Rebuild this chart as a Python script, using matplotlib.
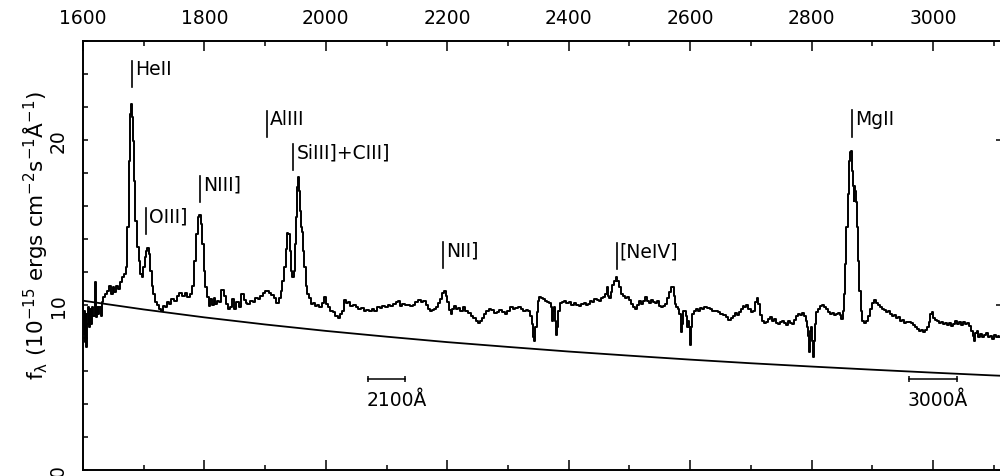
import matplotlib
matplotlib.use('Agg')
import matplotlib.pyplot as plt
from matplotlib.ticker import MultipleLocator

plt.rcParams['font.family'] = ['DejaVu Sans']
plt.rcParams['mathtext.default'] = 'regular'

# spectrum (rest wavelength in A, flux in 1e-15 units)
wave = [
    1600.0, 1601.1, 1602.2, 1603.3, 1605.0, 1606.1, 1607.7, 1609.4, 1611.0, 1612.7,
    1614.3, 1616.0, 1618.2, 1619.8, 1621.5, 1623.6, 1625.8, 1628.0, 1629.7, 1631.9,
    1634.6, 1637.9, 1641.2, 1644.5, 1647.3, 1650.0, 1653.3, 1656.6, 1659.9, 1663.2,
    1666.5, 1669.8, 1672.0, 1674.2, 1676.4, 1678.6, 1679.6, 1680.7, 1682.4, 1684.6,
    1687.3, 1690.1, 1692.8, 1695.6, 1697.8, 1700.0, 1702.7, 1704.9, 1707.1, 1709.3,
    1711.5, 1714.2, 1717.0, 1720.3, 1723.6, 1726.9, 1730.2, 1733.4, 1736.7, 1740.0,
    1743.3, 1747.7, 1752.1, 1756.5, 1760.9, 1765.3, 1769.7, 1774.1, 1778.5, 1781.8,
    1785.1, 1787.8, 1790.5, 1792.7, 1794.9, 1797.1, 1799.9, 1802.6, 1805.4, 1808.1,
    1810.9, 1813.6, 1816.4, 1819.1, 1822.4, 1825.7, 1830.1, 1833.4, 1836.7, 1840.5,
    1844.3, 1847.6, 1850.4, 1854.2, 1858.6, 1863.0, 1866.3, 1869.6, 1872.3, 1877.8,
    1882.2, 1886.0, 1889.9, 1894.3, 1898.6, 1902.0, 1905.2, 1908.5, 1911.8, 1916.2,
    1920.6, 1923.9, 1927.2, 1930.0, 1932.7, 1935.4, 1937.6, 1939.3, 1941.5, 1943.7,
    1945.9, 1948.1, 1950.3, 1951.9, 1953.5, 1955.2, 1956.8, 1957.9, 1959.6, 1961.2,
    1963.4, 1965.6, 1968.4, 1971.1, 1974.4, 1977.7, 1981.0, 1984.3, 1987.6, 1991.4,
    1995.3, 1998.6, 2001.3, 2005.1, 2009.6, 2014.0, 2017.8, 2021.1, 2024.4, 2027.7,
    2031.0, 2034.2, 2038.1, 2042.5, 2046.9, 2051.3, 2055.7, 2060.0, 2064.4, 2068.8,
    2073.2, 2077.6, 2082.0, 2086.4, 2090.8, 2095.2, 2099.6, 2104.0, 2108.4, 2112.8,
    2117.1, 2120.4, 2123.7, 2128.1, 2132.5, 2136.9, 2141.3, 2145.2, 2149.6, 2154.0,
    2158.4, 2162.8, 2166.1, 2169.3, 2172.6, 2175.9, 2179.8, 2183.6, 2186.9, 2190.2,
    2193.5, 2196.2, 2199.0, 2201.7, 2204.5, 2207.2, 2210.0, 2213.3, 2216.6, 2219.9,
    2223.7, 2227.5, 2231.9, 2236.3, 2240.7, 2245.1, 2248.4, 2251.7, 2255.0, 2258.3,
    2262.1, 2266.0, 2270.4, 2274.8, 2279.1, 2283.5, 2287.9, 2292.3, 2296.7, 2301.1,
    2305.5, 2309.9, 2314.3, 2318.7, 2323.1, 2327.5, 2331.9, 2335.1, 2338.4, 2340.6,
    2342.8, 2344.5, 2346.1, 2348.3, 2350.5, 2352.7, 2356.0, 2359.3, 2362.6, 2365.9,
    2369.2, 2371.9, 2373.6, 2375.2, 2377.4, 2379.1, 2380.7, 2382.4, 2384.0, 2386.8,
    2390.0, 2393.9, 2397.7, 2402.1, 2406.5, 2410.9, 2414.8, 2418.6, 2422.5, 2426.9,
    2430.2, 2433.5, 2436.8, 2440.6, 2444.4, 2447.7, 2451.6, 2455.4, 2458.7, 2461.5,
    2463.7, 2465.9, 2468.0, 2470.8, 2473.5, 2476.3, 2479.0, 2481.2, 2484.0, 2487.3,
    2490.6, 2493.8, 2497.1, 2501.0, 2504.8, 2508.1, 2511.4, 2514.7, 2518.0, 2521.3,
    2524.6, 2527.9, 2531.2, 2534.5, 2537.8, 2541.1, 2544.4, 2547.7, 2551.0, 2554.2,
    2557.5, 2560.8, 2564.1, 2566.9, 2569.6, 2571.8, 2574.0, 2576.2, 2578.4, 2581.1,
    2583.9, 2586.1, 2587.7, 2589.4, 2591.6, 2593.8, 2596.0, 2597.6, 2599.3, 2600.9,
    2602.6, 2604.7, 2608.0, 2611.3, 2614.6, 2617.9, 2621.8, 2625.6, 2630.0, 2634.4,
    2638.8, 2643.2, 2647.6, 2652.0, 2656.4, 2660.7, 2665.1, 2668.4, 2671.7, 2675.0,
    2678.3, 2681.6, 2684.9, 2688.2, 2690.4, 2694.3, 2697.6, 2701.4, 2705.3, 2708.6,
    2711.3, 2714.0, 2716.8, 2719.5, 2722.8, 2726.1, 2729.4, 2732.7, 2736.0, 2739.3,
    2742.6, 2745.9, 2749.2, 2752.5, 2755.8, 2759.1, 2762.4, 2765.7, 2768.9, 2772.2,
    2775.5, 2778.8, 2782.1, 2785.4, 2788.7, 2791.5, 2793.7, 2795.3, 2797.0, 2798.6,
    2800.3, 2801.9, 2803.5, 2805.2, 2806.8, 2809.0, 2811.8, 2815.1, 2818.4, 2821.6,
    2824.9, 2828.2, 2831.5, 2834.8, 2838.1, 2841.4, 2844.7, 2848.0, 2850.2, 2851.9,
    2854.0, 2856.2, 2858.4, 2860.6, 2862.8, 2864.5, 2866.1, 2867.2, 2868.3, 2870.0,
    2871.1, 2872.2, 2873.3, 2874.9, 2877.1, 2879.3, 2882.2, 2885.3, 2888.6, 2891.9,
    2895.2, 2898.5, 2901.8, 2905.1, 2908.4, 2911.7, 2915.0, 2918.3, 2921.6, 2924.9,
    2928.2, 2931.4, 2934.7, 2938.0, 2941.3, 2944.6, 2947.9, 2951.2, 2954.5, 2957.8,
    2962.3, 2965.5, 2968.8, 2972.1, 2975.4, 2978.7, 2982.0, 2985.3, 2988.6, 2991.9,
    2994.6, 2996.8, 2999.0, 3001.8, 3005.1, 3008.4, 3011.7, 3014.9, 3018.2, 3021.5,
    3024.8, 3028.1, 3031.4, 3034.7, 3038.0, 3041.3, 3044.6, 3047.9, 3051.2, 3054.5,
    3057.8, 3061.1, 3063.8, 3066.6, 3068.7, 3071.0, 3073.1, 3075.9, 3078.6, 3081.9,
    3085.2, 3088.5, 3091.8, 3095.1, 3098.4, 3101.7, 3105.0, 3108.3, 3110.5, 3115.0,
]
flux = [
    9.86, 8.25, 9.66, 7.74, 9.46, 7.44, 8.85, 9.86, 8.65, 9.76,
    8.85, 9.86, 9.36, 11.38, 9.26, 9.86, 9.46, 9.86, 9.36, 10.17,
    10.47, 10.67, 10.87, 11.18, 10.67, 11.07, 10.77, 11.18, 10.97, 11.38,
    11.68, 11.88, 12.29, 14.71, 18.75, 21.58, 22.18, 21.38, 19.96, 17.54,
    15.11, 13.50, 12.69, 11.88, 11.68, 12.29, 12.89, 13.30, 13.46, 13.09,
    12.08, 11.18, 10.67, 10.17, 10.02, 9.76, 9.62, 9.96, 9.86, 10.17,
    10.06, 10.37, 10.27, 10.57, 10.71, 10.57, 10.71, 10.47, 10.67, 11.18,
    12.69, 14.31, 15.32, 15.48, 14.91, 13.70, 12.08, 11.07, 10.47, 9.96,
    10.37, 10.02, 10.43, 10.06, 10.27, 10.17, 10.91, 10.57, 10.06, 9.76,
    9.86, 10.37, 9.76, 10.17, 9.86, 10.67, 10.31, 10.10, 10.06, 10.27,
    10.17, 10.43, 10.37, 10.57, 10.71, 10.83, 10.87, 10.71, 10.63, 10.43,
    10.10, 10.43, 10.87, 11.48, 12.29, 13.40, 14.35, 14.31, 13.30, 12.08,
    11.72, 12.08, 13.70, 15.32, 17.13, 17.74, 16.93, 15.72, 14.71, 14.41,
    13.30, 12.29, 11.18, 10.67, 10.43, 10.06, 10.10, 9.94, 10.02, 9.86,
    10.10, 10.47, 10.06, 9.90, 9.66, 9.56, 9.36, 9.22, 9.46, 9.66,
    10.31, 10.10, 10.17, 9.96, 10.02, 9.86, 9.76, 9.82, 9.66, 9.70,
    9.62, 9.76, 9.66, 9.90, 9.82, 9.96, 9.86, 10.02, 9.94, 10.06,
    10.17, 10.23, 9.96, 10.06, 9.98, 10.02, 9.94, 10.02, 10.17, 10.31,
    10.17, 10.23, 10.02, 9.76, 9.62, 9.70, 9.76, 9.90, 10.10, 10.37,
    10.71, 10.83, 10.57, 10.17, 9.70, 9.46, 9.76, 9.96, 9.76, 9.82,
    9.66, 9.86, 9.62, 9.50, 9.36, 9.22, 9.05, 8.89, 9.05, 9.22,
    9.46, 9.66, 9.76, 9.70, 9.50, 9.56, 9.70, 9.56, 9.46, 9.62,
    9.86, 9.76, 9.82, 9.90, 9.76, 9.66, 9.70, 9.62, 9.36, 8.85,
    8.04, 7.84, 8.65, 9.56, 10.27, 10.51, 10.43, 10.39, 10.27, 10.17,
    10.10, 9.86, 9.05, 9.66, 9.86, 9.05, 8.21, 8.65, 9.66, 10.10,
    10.17, 10.23, 10.10, 10.17, 10.02, 10.10, 10.02, 9.94, 10.06, 10.14,
    9.98, 10.06, 10.23, 10.17, 10.37, 10.31, 10.27, 10.43, 10.47, 10.67,
    11.11, 10.57, 10.43, 10.77, 11.24, 11.48, 11.72, 11.48, 11.07, 10.67,
    10.57, 10.43, 10.51, 10.31, 10.06, 9.90, 9.76, 10.02, 10.23, 10.06,
    10.27, 10.47, 10.27, 10.10, 10.31, 10.17, 10.10, 10.23, 9.94, 9.86,
    9.96, 10.06, 10.43, 10.77, 11.11, 11.07, 10.57, 10.06, 9.86, 9.76,
    9.46, 8.35, 8.85, 9.66, 9.62, 9.36, 8.65, 9.05, 8.65, 7.60,
    8.65, 9.46, 9.62, 9.76, 9.66, 9.82, 9.76, 9.90, 9.82, 9.76,
    9.66, 9.62, 9.56, 9.46, 9.42, 9.30, 9.09, 9.22, 9.36, 9.50,
    9.42, 9.56, 9.76, 9.96, 9.86, 10.02, 9.76, 9.56, 9.66, 10.17,
    10.43, 10.06, 9.42, 9.05, 8.89, 8.95, 9.15, 9.26, 9.05, 9.13,
    8.89, 8.85, 8.97, 9.05, 8.89, 8.81, 9.01, 8.93, 8.85, 9.09,
    9.36, 9.46, 9.42, 9.50, 9.36, 9.05, 8.65, 8.15, 7.13, 8.45,
    8.65, 7.84, 6.83, 7.84, 8.85, 9.56, 9.76, 9.96, 10.02, 9.86,
    9.76, 9.56, 9.46, 9.54, 9.42, 9.46, 9.54, 9.42, 9.15, 9.66,
    10.67, 12.49, 14.71, 16.73, 18.75, 19.26, 19.32, 18.14, 17.23, 16.33,
    17.23, 16.93, 16.22, 14.71, 12.69, 10.87, 9.66, 9.05, 8.89, 9.01,
    9.36, 9.76, 10.10, 10.31, 10.10, 10.02, 9.86, 9.76, 9.70, 9.56,
    9.62, 9.46, 9.36, 9.42, 9.22, 9.26, 9.05, 9.09, 8.89, 8.95,
    8.95, 8.89, 8.81, 8.65, 8.55, 8.45, 8.49, 8.37, 8.49, 8.65,
    8.95, 9.46, 9.56, 9.22, 9.09, 9.01, 8.89, 8.97, 8.85, 8.93,
    8.81, 8.89, 8.75, 8.85, 9.01, 8.85, 8.95, 8.81, 8.97, 8.85,
    8.93, 8.75, 8.45, 8.15, 7.84, 8.29, 8.45, 8.08, 8.25, 8.04,
    8.21, 8.29, 8.04, 8.12, 7.94, 8.21, 8.08, 8.14, 8.04, 8.10,
]

# continuum fit, read at 100 A steps
cont_wave = [1600, 1700, 1800, 1900, 2000, 2100, 2200, 2300, 2400,
             2500, 2600, 2700, 2800, 2900, 3000, 3100, 3120]
cont_flux = [10.26, 9.73, 9.25, 8.82, 8.43, 8.08, 7.75, 7.46, 7.18,
             6.93, 6.69, 6.47, 6.27, 6.08, 5.90, 5.73, 5.70]

# line identifications: label, wavelength of the marker, top of the marker
line_names = ['HeII', 'OIII]', 'NIII]', 'AlIII', 'SiIII]+CIII]', 'NII]', '[NeIV]', 'MgII']
line_wave = [1680.7, 1703.8, 1792.7, 1902.3, 1946.4, 2193.5, 2478.8, 2866.2]
line_top = [24.79, 15.88, 17.82, 21.76, 19.76, 13.82, 13.76, 21.79]
mark_len = 1.58

# scale bars
bar_labels = ['2100Å', '3000Å']
bar_start = [2069.4, 2960.6]
bar_end = [2130.4, 3039.7]
bar_level = 5.52

fig = plt.figure(figsize=(10, 4.77), dpi=100)
ax = fig.add_axes([0.083, 6 / 477, 0.918, 429 / 477])

ax.plot(wave, flux, color='k', lw=1.4, drawstyle='steps-mid')
ax.plot(cont_wave, cont_flux, color='k', lw=1.3)

for name, x, top in zip(line_names, line_wave, line_top):
    ax.plot([x, x], [top - mark_len, top], color='k', lw=1.2)
    ax.annotate(name, (x, top), xytext=(2.2, -9.7), textcoords='offset points',
                ha='left', va='baseline', fontsize=13.5)

for lab, x0, x1 in zip(bar_labels, bar_start, bar_end):
    ax.plot([x0, x1], [bar_level, bar_level], color='k', lw=1.1,
            marker='|', markersize=4, markeredgewidth=1.1)
    ax.annotate(lab, (x0, bar_level), xytext=(-1, -18.7), textcoords='offset points',
                ha='left', va='baseline', fontsize=13.5)

ax.set_xlim(1600, 1600 + 918 / 0.6071)
ax.set_ylim(0, 26)

ax.xaxis.set_major_locator(MultipleLocator(200))
ax.xaxis.set_minor_locator(MultipleLocator(100))
ax.yaxis.set_major_locator(MultipleLocator(10))
ax.yaxis.set_minor_locator(MultipleLocator(2))

ax.tick_params(axis='x', which='both', direction='in', top=True, bottom=True,
               labeltop=True, labelbottom=False, width=1.1, labelsize=13.5, pad=10)
ax.tick_params(axis='x', which='major', length=7.5)
ax.tick_params(axis='x', which='minor', length=3.8)
ax.tick_params(axis='y', which='major', direction='in', left=True, right=True,
               length=3.8, width=1.1, labelsize=13.5, pad=11)
ax.tick_params(axis='y', which='minor', direction='in', left=True, right=False,
               length=3.8, width=1.1)
plt.setp(ax.get_yticklabels(), rotation=90, va='center')

for side in ['left', 'top', 'bottom']:
    ax.spines[side].set_linewidth(1.4)
ax.spines['right'].set_visible(False)

ax.set_ylabel(r'f$_\lambda$ (10$^{-15}$ ergs cm$^{-2}$s$^{-1}$Å$^{-1}$)', fontsize=15.5)
ax.yaxis.set_label_coords(-0.036, 0.55)

fig.savefig('out.png', dpi=100)
